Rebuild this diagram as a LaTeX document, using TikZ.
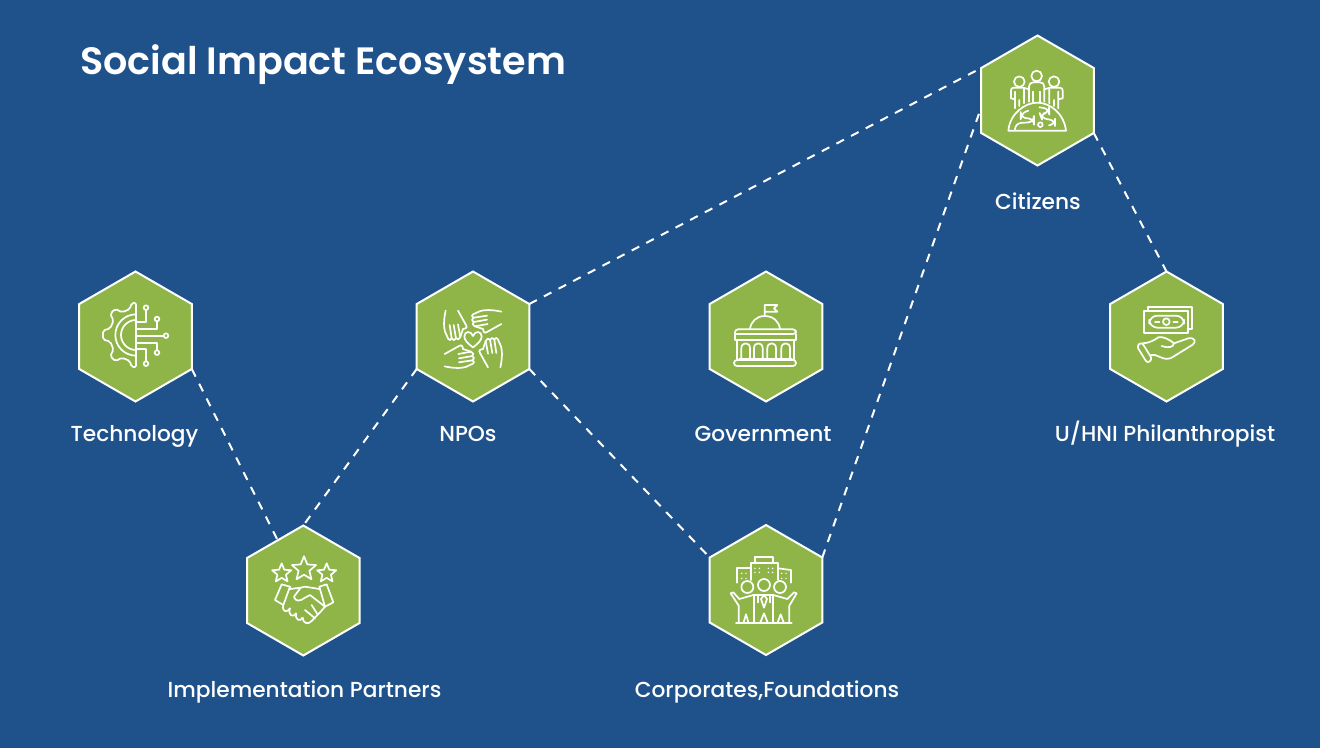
\documentclass[tikz,border=0pt]{standalone}
\usepackage{fontspec}
\setmainfont{Poppins Medium}
\newfontfamily\titlefont{Poppins SemiBold}
\usetikzlibrary{shapes.geometric}
\definecolor{bgblue}{RGB}{31,82,138}
\definecolor{hexgreen}{RGB}{143,181,72}
\tikzset{
  hexnode/.style={regular polygon,regular polygon sides=6,shape border rotate=30,minimum size=130,inner sep=0,outer sep=0,draw=white,line width=2,fill=hexgreen},
  link/.style={draw=white,line width=2,dash pattern=on 8.5 off 8},
  lab/.style={text=white,font=\fontsize{21.7}{26}\selectfont,inner sep=0,anchor=base},
  ico/.style={draw=white,line width=1.7,line join=round,line cap=round},
}
\newcommand{\starshape}[3]{%
  (#1+0,#2-#3) -- ++(0,0)
  \foreach \k in {1,...,9}{ -- ({#1+(mod(\k,2)==0?#3:#3*0.45)*sin(36*\k)},{#2-(mod(\k,2)==0?#3:#3*0.45)*cos(36*\k)}) } -- cycle}
\begin{document}
\begin{tikzpicture}[x=1pt,y=-1pt]
\fill[bgblue] (0,0) rectangle (1320,748);
\useasboundingbox (0,0) rectangle (1320,748);

\node[anchor=base west,text=white,inner sep=0,font=\fontsize{38.1}{42}\titlefont] (title) at (80,74) {Social Impact Ecosystem};

\node[hexnode] (citizens) at (1037.5,100.5) {};
\node[hexnode] (tech) at (135.5,336.5) {};
\node[hexnode] (npos) at (473,336.5) {};
\node[hexnode] (gov) at (766,336.5) {};
\node[hexnode] (phil) at (1166.5,336.5) {};
\node[hexnode] (impl) at (303.3,590.5) {};
\node[hexnode] (corp) at (766,590) {};

\path[link] (tech.330) -- (impl.117);
\path[link] (npos.210) -- (impl.90);
\path[link] (npos.30) -- (citizens.150);
\path[link] (npos.330) -- (corp.150);
\path[link] (corp.30) -- (citizens.187);
\path[link] (citizens.330) -- (phil.90);

\node[lab] (lcit) at (1038,209) {Citizens};
\node[lab] (ltech) at (134.5,441) {Technology};
\node[lab] (lnpo) at (468,441) {NPOs};
\node[lab] (lgov) at (763,441) {Government};
\node[lab] (lphil) at (1165,441) {U/HNI Philanthropist};
\node[lab] (limpl) at (304.5,697) {Implementation Partners};
\node[lab] (lcorp) at (767,697) {Corporates,Foundations};

% Citizens icon
\begin{scope}[shift={(960,20)},scale=1/3,ico]
\draw (145,332) .. controls (150,280) and (195,248) .. (232,248) .. controls (270,248) and (312,280) .. (318,332) -- cycle;
\draw (178,185) circle (16) (230,168) circle (16) (282,185) circle (16);
\draw (207,245) -- (207,200) .. controls (207,192) and (212,187) .. (220,187) -- (240,187) .. controls (248,187) and (253,192) .. (253,200) -- (253,245);
\draw (220,215) -- (220,247) (240,215) -- (240,247);
\draw (207,208) -- (190,203) -- (160,203) .. controls (154,203) and (153,208) .. (153,212) -- (153,235) -- (165,238) (165,215) -- (165,265) (178,240) -- (178,258) (192,205) -- (192,250);
\draw (253,208) -- (270,203) -- (300,203) .. controls (306,203) and (308,208) .. (308,212) -- (308,235) -- (295,238) (295,215) -- (295,265) (282,240) -- (282,258) (268,205) -- (268,250);
\draw[rounded corners=6] (165,325) -- (165,310) -- (222,306) -- (222,296) -- (182,294) -- (182,280) -- (205,272);
\draw[rounded corners=6] (238,262) -- (268,266) -- (268,278) -- (240,282) -- (245,296) -- (285,300) -- (285,314) -- (268,316);
\draw (241,314) circle (7);
\end{scope}

% Technology icon
\begin{scope}[shift={(60,260)},scale=1/3,ico]
\begin{scope}[shift={(228,225)}]
\draw[rounded corners=2] (90:97) -- (98:97) -- (103:80) -- (122:80) -- (128:100) -- (141:100) -- (147:80) -- (166:80) -- (172:100) -- (188:100) -- (194:80) -- (213:80) -- (219:100) -- (232:100) -- (238:80) -- (257:80) -- (262:97) -- (270:97) -- cycle;
\draw (90:45) arc (90:270:45);
\draw (90:62) arc (90:270:62);
\end{scope}
\draw (258,143) circle (7) (291,177) circle (7) (318,227) circle (7) (291,278) circle (7) (258,311) circle (7);
\draw (258,150) -- (258,186) -- (228,186);
\draw (291,184) -- (291,207) -- (228,207);
\draw (311,227) -- (228,227);
\draw (291,271) -- (291,248) -- (228,248);
\draw (258,304) -- (258,268) -- (228,268);
\end{scope}

% NPOs icon
\begin{scope}[shift={(400,260)},scale=1/3,ico]
\begin{scope}[shift={(219,237)}]
\foreach \r in {0,90,180,270}{
\begin{scope}[rotate=\r]
\draw (-82,-85) .. controls (-88,-60) and (-88,-35) .. (-84,-22) -- (-74,0) .. controls (-71,5) and (-66,4) .. (-64,-2) .. controls (-61,5) and (-54,5) .. (-51,-2) .. controls (-47,3) and (-41,2) .. (-38,-6) -- (-30,-30) -- (-22,-32) .. controls (-18,-33) and (-18,-38) .. (-21,-42) -- (-45,-85);
\draw (-70,-42) -- (-64,-2) (-58,-42) -- (-51,-2) (-45,-44) -- (-38,-6);
\end{scope}}
\draw (0,25) .. controls (-18,12) and (-26,2) .. (-26,-8) .. controls (-26,-24) and (-6,-26) .. (0,-9) .. controls (6,-26) and (26,-24) .. (26,-8) .. controls (26,2) and (18,12) .. (0,25) -- cycle;
\end{scope}
\end{scope}

% Government icon
\begin{scope}[shift={(690,260)},scale=1/3,ico]
\draw (224,168) -- (224,135) -- (262,135) -- (252,145) -- (262,155) -- (224,155);
\draw (180,208) .. controls (182,185) and (200,168) .. (224,168) .. controls (250,168) and (268,185) .. (270,208);
\draw[rounded corners=3] (135,222) -- (135,208) -- (318,208) -- (318,222) -- (135,222);
\draw (135,222) -- (135,240) -- (318,240) -- (318,222);
\draw (140,240) -- (140,300) (313,240) -- (313,300);
\foreach \c in {167,205,245,287}{
\draw (\c-13,298) -- (\c-13,265) .. controls (\c-13,255) and (\c-7,250) .. (\c,250) .. controls (\c+7,250) and (\c+13,255) .. (\c+13,265) -- (\c+13,298);
}
\draw (148,298) -- (305,298);
\draw[rounded corners=3] (132,300) rectangle (318,318);
\end{scope}

% Philanthropist icon
\begin{scope}[shift={(1090,260)},scale=1/3,ico]
\draw (175,152) -- (175,140) -- (305,140) -- (305,207) -- (295,207);
\draw (163,152) rectangle (295,218);
\draw[rounded corners=8] (178,167) rectangle (282,203);
\draw (229,185) circle (10);
\draw (195,185) -- (208,185) (250,185) -- (263,185);
\draw[rounded corners=3] (140,258) -- (155,246) -- (187,298) -- (172,310) -- cycle;
\draw (158,250) .. controls (175,250) and (195,240) .. (205,232) .. controls (220,228) and (240,240) .. (252,250) -- (295,235) .. controls (315,232) and (320,245) .. (308,254) -- (250,290) .. controls (240,298) and (225,298) .. (215,293) -- (195,285) -- (183,285);
\draw (252,250) .. controls (250,262) and (235,265) .. (215,258);
\end{scope}

% Implementation Partners icon
\begin{scope}[shift={(230,515)},scale=1/3,ico]
\draw \starshape{155}{175}{30};
\draw \starshape{222}{162}{38};
\draw \starshape{290}{175}{30};
\draw (155,208) -- (135,255) -- (160,270) -- (180,215) -- (155,208);
\draw (290,208) -- (310,262) -- (285,275) -- (268,215) -- (290,208);
\draw (180,222) -- (212,218) -- (192,245) .. controls (195,260) and (210,260) .. (225,248) -- (240,240) -- (285,275);
\draw (268,222) -- (225,215) -- (212,218);
\draw (160,270) .. controls (155,290) and (170,295) .. (180,280) .. controls (172,300) and (190,310) .. (198,295) .. controls (195,315) and (210,322) .. (218,308) .. controls (218,325) and (235,330) .. (245,318) -- (272,290) (285,275) -- (272,290) (225,285) -- (255,310) (245,270) -- (262,297);
\end{scope}

% Corporates icon
\begin{scope}[shift={(690,515)},scale=1/3,ico]
\draw (196,145) -- (196,125) -- (248,125) -- (248,145);
\draw (183,195) -- (183,145) -- (264,145) -- (264,195);
\draw (183,160) -- (140,160) -- (140,203);
\draw (264,160) -- (303,165) -- (303,203);
\foreach \p/\q in {155/175,168/175,155/190,168/190,195/160,208/160,195/172,208/172,235/160,248/160,235/172,248/172,275/175,288/175,275/190,288/190}{
\fill[white] (\p,\q) circle (2.5);
}
\draw (172,216) circle (18) (222,210) circle (18) (270,216) circle (18);
\draw (122,235) -- (130,232) -- (148,252) -- (190,240) -- (250,240) -- (292,252) -- (312,232) -- (320,235) -- (298,272) -- (298,325);
\draw (122,235) -- (146,272) -- (146,325);
\draw (193,240) -- (193,325) (250,240) -- (250,325);
\draw (138,325) -- (305,325);
\draw (222,240) -- (213,252) -- (222,278) -- (231,252) -- cycle;
\draw (205,240) -- (205,262) (240,240) -- (240,262);
\draw (160,325) -- (168,298) -- (176,325);
\draw (210,325) -- (222,295) -- (234,325);
\draw (262,325) -- (272,298) -- (282,325);
\end{scope}
\end{tikzpicture}
\end{document}
